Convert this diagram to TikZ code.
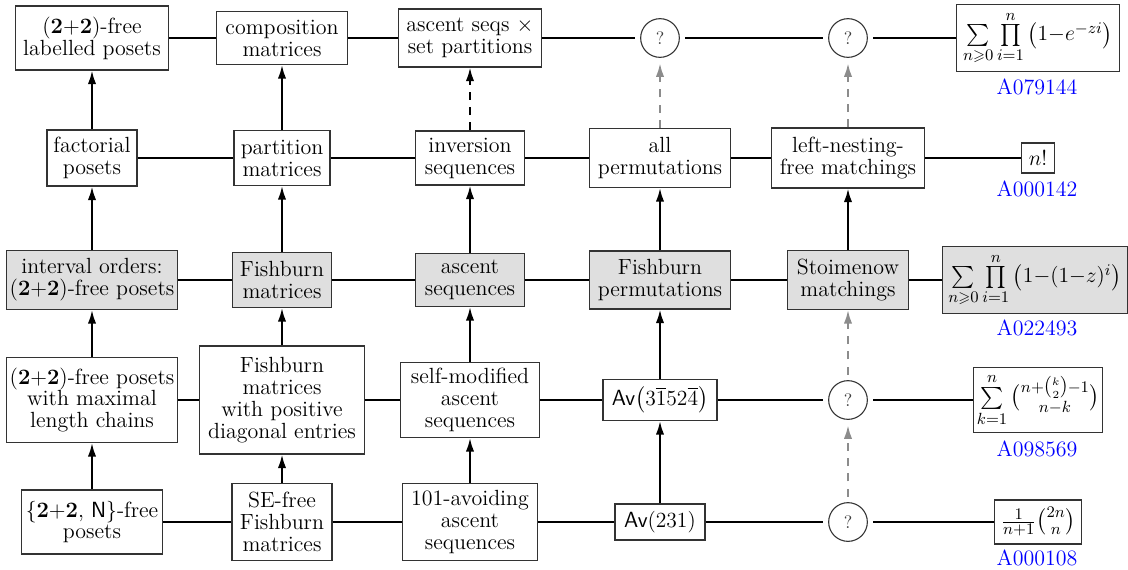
\documentclass[tikz,border=0pt]{standalone}
\usepackage{amsmath,amssymb}
\usetikzlibrary{arrows.meta}
\newdimen\px \px=0.5556pt
\begin{document}
\begin{tikzpicture}[x=0.5556pt,y=-0.5556pt,
  font=\fontsize{12.2}{12.2}\selectfont,
  box/.style={draw=black!80, line width=0.6pt, fill=white, align=center, inner sep=1pt},
  shaded/.style={box, fill=gray!25},
  qc/.style={circle, draw=black!80, line width=0.6pt, minimum size=21.5pt, inner sep=0pt, outer sep=3.3pt, text=black!75, font=\fontsize{10}{10}\selectfont},
  oeis/.style={text=blue, inner sep=0pt},
  link/.style={line width=1.1pt},
  arr/.style={link, -{Latex[length=7.5pt,width=4.6pt]}},
  darr/.style={arr, dash pattern=on 4.5pt off 4pt},
  garr/.style={darr, draw=gray!90, -{Latex[length=7.5pt,width=4.6pt,color=gray!90]}}
]
\useasboundingbox (0,0) rectangle (1128,569);
% row 1
\node[box, minimum width=153\px, minimum height=64\px] (l1) at (92,38) {(\textbf{2}+\textbf{2})-free\\labelled posets};
\node[box, minimum width=131\px, minimum height=53\px] (c1) at (282,38) {composition\\matrices};
\node[box, minimum width=143\px, minimum height=58\px] (a1) at (470,38) {ascent seqs $\times$\\set partitions};
\node[qc] (q14) at (660,38) {?};
\node[qc] (q15) at (848,38) {?};
\node[box, minimum width=163\px, minimum height=67\px] (f1) at (1038,38) {$\sum\limits_{n\geqslant 0}\prod\limits_{i=1}^{n}\big(1{-}e^{-zi}\big)$};
\node[oeis] (o1) at (1037,87) {A079144};
% row 2
\node[box, minimum width=90\px, minimum height=56\px] (l2) at (92,158) {factorial\\posets};
\node[box, minimum width=96\px, minimum height=55\px] (c2) at (282,158) {partition\\matrices};
\node[box, minimum width=109\px, minimum height=54\px] (a2) at (470,158) {inversion\\sequences};
\node[box, minimum width=141\px, minimum height=59\px] (p2) at (660,158) {all\\permutations};
\node[box, minimum width=153\px, minimum height=60\px] (m2) at (848,158) {left-nesting-\\free matchings};
\node[box, minimum width=33\px, minimum height=30\px] (f2) at (1038,158) {$n!$};
\node[oeis] (o2) at (1037,189) {A000142};
% row 3
\node[shaded, minimum width=171\px, minimum height=59\px] (l3) at (92,280) {interval orders:\\(\textbf{2}+\textbf{2})-free posets};
\node[shaded, minimum width=99\px, minimum height=55\px] (c3) at (282,280) {Fishburn\\matrices};
\node[shaded, minimum width=109\px, minimum height=53\px] (a3) at (470,280) {ascent\\sequences};
\node[shaded, minimum width=141\px, minimum height=58\px] (p3) at (660,280) {Fishburn\\permutations};
\node[shaded, minimum width=121\px, minimum height=59\px] (m3) at (848,280) {Stoimenow\\matchings};
\node[shaded, minimum width=185\px, minimum height=67\px] (f3) at (1035,280) {$\sum\limits_{n\geqslant 0}\prod\limits_{i=1}^{n}\big(1{-}(1{-}z)^{i}\big)$};
\node[oeis] (o3) at (1037,328) {A022493};
% row 4
\node[box, minimum width=171\px, minimum height=85\px] (l4) at (92,400) {(\textbf{2}+\textbf{2})-free posets\\with maximal\\length chains};
\node[box, minimum width=165\px, minimum height=108\px] (c4) at (282,400) {Fishburn\\matrices\\with positive\\diagonal entries};
\node[box, minimum width=139\px, minimum height=75\px] (a4) at (470,400) {self-modified\\ascent\\sequences};
\node[box, minimum width=114\px, minimum height=41\px] (p4) at (660,400) {\textsf{Av}$\big(3\overline{1}52\overline{4}\big)$};
\node[qc] (q45) at (848,400) {?};
\node[box, minimum width=129\px, minimum height=65\px] (f4) at (1038,400) {$\sum\limits_{k=1}^{n}\tbinom{n+\binom{k}{2}-1}{n-k}$};
\node[oeis] (o4) at (1037,449) {A098569};
% row 5
\node[box, minimum width=141\px, minimum height=64\px] (l5) at (92,522) {$\{$\textbf{2}+\textbf{2}, \textsf{N}$\}$-free\\posets};
\node[box, minimum width=100\px, minimum height=77\px] (c5) at (282,522) {SE-free\\Fishburn\\matrices};
\node[box, minimum width=135\px, minimum height=77\px] (a5) at (470,522) {101-avoiding\\ascent\\sequences};
\node[box, minimum width=90\px, minimum height=36\px] (p5) at (660,522) {\textsf{Av}$(231)$};
\node[qc] (q55) at (848,522) {?};
\node[box, minimum width=87\px, minimum height=44\px] (f5) at (1038,522) {$\tfrac{1}{n+1}\tbinom{2n}{n}$};
\node[oeis] (o5) at (1037,558) {A000108};
% horizontal links
\draw[link] (l1)--(c1) (c1)--(a1) (a1)--(q14) (q14)--(q15) (q15)--(f1);
\draw[link] (l2)--(c2) (c2)--(a2) (a2)--(p2) (p2)--(m2) (m2)--(f2);
\draw[link] (l3)--(c3) (c3)--(a3) (a3)--(p3) (p3)--(m3) (m3)--(f3);
\draw[link] (l4)--(c4) (c4)--(a4) (a4)--(p4) (p4)--(q45) (q45)--(f4);
\draw[link] (l5)--(c5) (c5)--(a5) (a5)--(p5) (p5)--(q55) (q55)--(f5);
% vertical arrows
\draw[arr] (l5)--(l4); \draw[arr] (l4)--(l3); \draw[arr] (l3)--(l2); \draw[arr] (l2)--(l1);
\draw[arr] (c5)--(c4); \draw[arr] (c4)--(c3); \draw[arr] (c3)--(c2); \draw[arr] (c2)--(c1);
\draw[arr] (a5)--(a4); \draw[arr] (a4)--(a3); \draw[arr] (a3)--(a2); \draw[darr] (a2)--(a1);
\draw[arr] (p5)--(p4); \draw[arr] (p4)--(p3); \draw[arr] (p3)--(p2); \draw[garr] (p2)--(q14);
\draw[garr] (q55)--(q45); \draw[garr] (q45)--(m3); \draw[arr] (m3)--(m2); \draw[garr] (m2)--(q15);
\end{tikzpicture}
\end{document}
